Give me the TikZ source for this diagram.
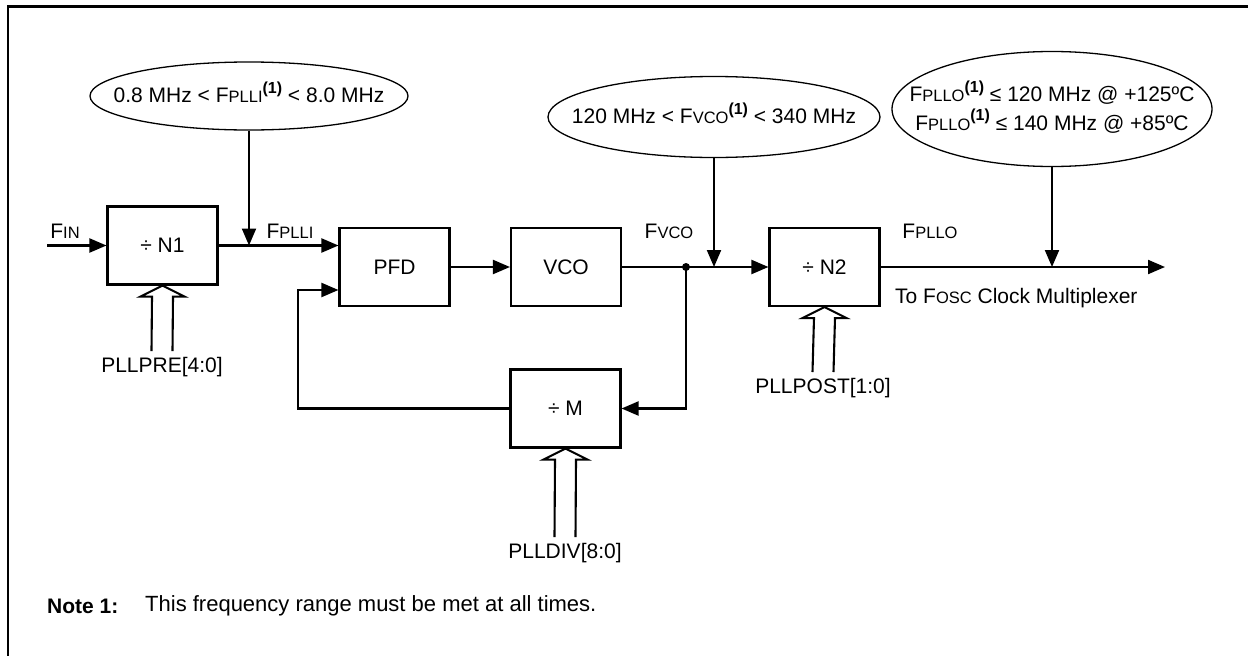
\documentclass[tikz,border=0pt]{standalone}
\usepackage{fontspec}
\setmainfont{Liberation Sans}
\usetikzlibrary{arrows.meta,positioning,calc,shapes.geometric}
\newcommand{\smc}[1]{{\fontsize{16.5}{16.5}\selectfont #1}}
\newcommand{\fnref}{\raisebox{0.45em}{\fontsize{16}{16}\selectfont\bfseries (1)}}
% text of a limit ellipse, kept out of the ellipse size
\newcommand{\limtext}[1]{\makebox[0pt]{\begin{tabular}{@{}c@{}}#1\end{tabular}}}
% hollow double-line bus arrow: #1 = tip (box side), #2 = label it comes from
\newcommand{\busin}[2]{%
  \draw[bus] ($(#2.north)+(-10.5,-4)$) -- ($(#1)+(-10.5,11)$) -- ($(#1)+(-22,11)$)
    -- (#1) -- ($(#1)+(22,11)$) -- ($(#1)+(10.5,11)$) -- ($(#2.north)+(10.5,-4)$);}

\begin{document}
\begin{tikzpicture}[
  x=1pt, y=-1pt,
  font=\fontsize{21}{25}\selectfont,
  block/.style={draw, line width=2.1pt, minimum width=110pt, minimum height=78pt, inner sep=0pt},
  limit/.style={draw, ellipse, line width=1.3pt, inner sep=0pt},
  lbl/.style={inner sep=2pt},
  edge/.style={-{Triangle[length=17pt,width=14pt]}, line width=2.1pt},
  bus/.style={line width=2.1pt}
]
\useasboundingbox (0,0) rectangle (1248,656);
\draw[line width=2.2pt] (8,700) -- (8,6.5) -- (1270,6.5);

\node[block] (n1) at (162.5,245.5) {÷ N1};
\node[block] (pfd) at (394.5,267) {PFD};
\node[block] (vco) at (566,267) {VCO};
\node[block] (n2) at (824.5,267) {÷ N2};
\node[block] (divm) at (565.5,408.5) {÷ M};

\node[limit, minimum width=318pt, minimum height=68pt] (lim1) at (249,96) {\limtext{0.8 MHz < F\smc{PLLI}\fnref{} < 8.0 MHz}};
\node[limit, minimum width=332pt, minimum height=81pt] (lim2) at (714,117) {\limtext{120 MHz < F\smc{VCO}\fnref{} < 340 MHz}};
\node[limit, minimum width=320pt, minimum height=115pt] (lim3) at (1052,109) {\limtext{F\smc{PLLO}\fnref{} ≤ 120 MHz @ +125ºC\\F\smc{PLLO}\fnref{} ≤ 140 MHz @ +85ºC}};

\node[lbl] (fin) at (65,231) {F\smc{IN}};
\node[lbl] (fplli) at (290,231) {F\smc{PLLI}};
\node[lbl] (fvco) at (669,231) {F\smc{VCO}};
\node[lbl] (fpllo) at (930,231) {F\smc{PLLO}};
\node[lbl, anchor=west] (tofosc) at (893,298) {To F\smc{OSC} Clock Multiplexer};
\node[lbl] (pllpre) at (162,367) {PLLPRE[4:0]};
\node[lbl] (pllpost) at (823,388) {PLLPOST[1:0]};
\node[lbl] (plldiv) at (565,553) {PLLDIV[8:0]};
\node[lbl, anchor=west, font=\fontsize{21}{25}\selectfont\bfseries] (note) at (45,606) {Note 1:};
\node[lbl, anchor=west, font=\fontsize{22}{25}\selectfont] (notetext) at (143,606) {This frequency range must be met at all times.};

\coordinate (src) at (47,245.5);
\coordinate (tap) at (686,267);
\coordinate (out) at (1165,267);
\coordinate (fb) at (298,290);

\draw[edge] (src) -- (n1.west);
\draw[edge] (n1.east) -- (pfd.west |- n1.east);
\draw[edge] (pfd) -- (vco);
\draw[edge] (vco) -- (n2);
\draw[edge] (n2) -- (out);
\draw[edge] (tap) |- (divm.east);
\draw[edge] (divm.west) -| (fb) -- (fb -| pfd.west);
\fill (tap) circle (4pt);

\draw[edge] (lim1.south) -- (lim1.south |- n1.east);
\draw[edge] (lim2.south) -- (lim2.south |- n2.west);
\draw[edge] (lim3.south) -- (lim3.south |- out);

\busin{n1.south}{pllpre}
\busin{n2.south}{pllpost}
\busin{divm.south}{plldiv}
\end{tikzpicture}
\end{document}
